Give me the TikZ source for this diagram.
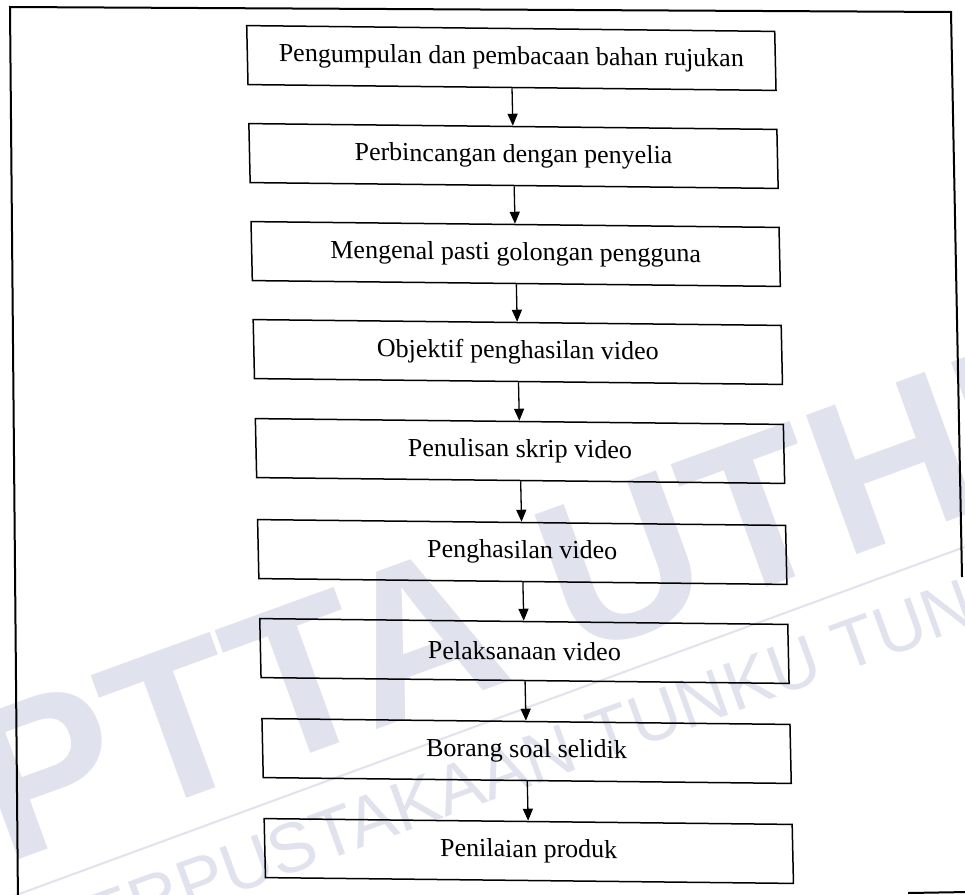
\documentclass[tikz,border=0pt]{standalone}
\usepackage{fontspec}
\setmainfont{Liberation Serif}
\newfontfamily\wmfont{Liberation Sans}
\usetikzlibrary{arrows.meta}
\definecolor{wmcol}{RGB}{224,226,238}
\begin{document}
\begin{tikzpicture}[x=1pt,y=-1pt,
  stepbox/.style={draw, line width=1.5pt, minimum width=528pt, minimum height=59pt,
    inner sep=0pt, font=\fontsize{26}{30}\selectfont},
  flow/.style={-{Triangle[length=12pt,width=10pt]}, line width=1.3pt},
  frameline/.style={line width=2pt, line join=miter},
  wmbig/.style={text=wmcol, inner sep=0pt, rotate=20,
    font=\wmfont\bfseries\fontsize{215}{215}\selectfont},
  wmsmall/.style={text=wmcol, inner sep=0pt, rotate=20,
    font=\wmfont\fontsize{70}{70}\selectfont}]
\clip (0,0) rectangle (965,894);
\fill[white] (0,0) rectangle (965,894);

% library stamp in the background
\node[wmbig, anchor=base west] (wmA) at (5,865) {PTTA UTHM};
\draw[wmcol, line width=2pt] (0,901) -- (1000,534);
\node[wmsmall, anchor=north west] (wmB) at (35,915) {PERPUSTAKAAN TUNKU TUN AMINAH};

% outer frame
\draw[frameline] (18,905) -- (10,7) -- (951,12) -- (962,577);
\draw[frameline] (908,893) -- (968,892);

% flow of steps
\begin{scope}[shift={(520,451)}, cm={1,-0.011,-0.022,1,(0,0)}, transform shape]
\node[stepbox] (s1) at (0,-393) {Pengumpulan dan pembacaan bahan rujukan};
\node[stepbox] (s2) at (0,-295) {Perbincangan dengan penyelia};
\node[stepbox] (s3) at (0,-197) {Mengenal pasti golongan pengguna};
\node[stepbox] (s4) at (0,-99) {Objektif penghasilan video};
\node[stepbox] (s5) at (0,0) {Penulisan skrip video};
\node[stepbox] (s6) at (0,101) {Penghasilan video};
\node[stepbox] (s7) at (0,200) {Pelaksanaan video};
\node[stepbox] (s8) at (0,300) {Borang soal selidik};
\node[stepbox] (s9) at (0,400) {Penilaian produk};
\foreach \a/\b in {s1/s2,s2/s3,s3/s4,s4/s5,s5/s6,s6/s7,s7/s8,s8/s9}
  \draw[flow] (\a.south) -- (\b.north);
\end{scope}
\end{tikzpicture}
\end{document}
